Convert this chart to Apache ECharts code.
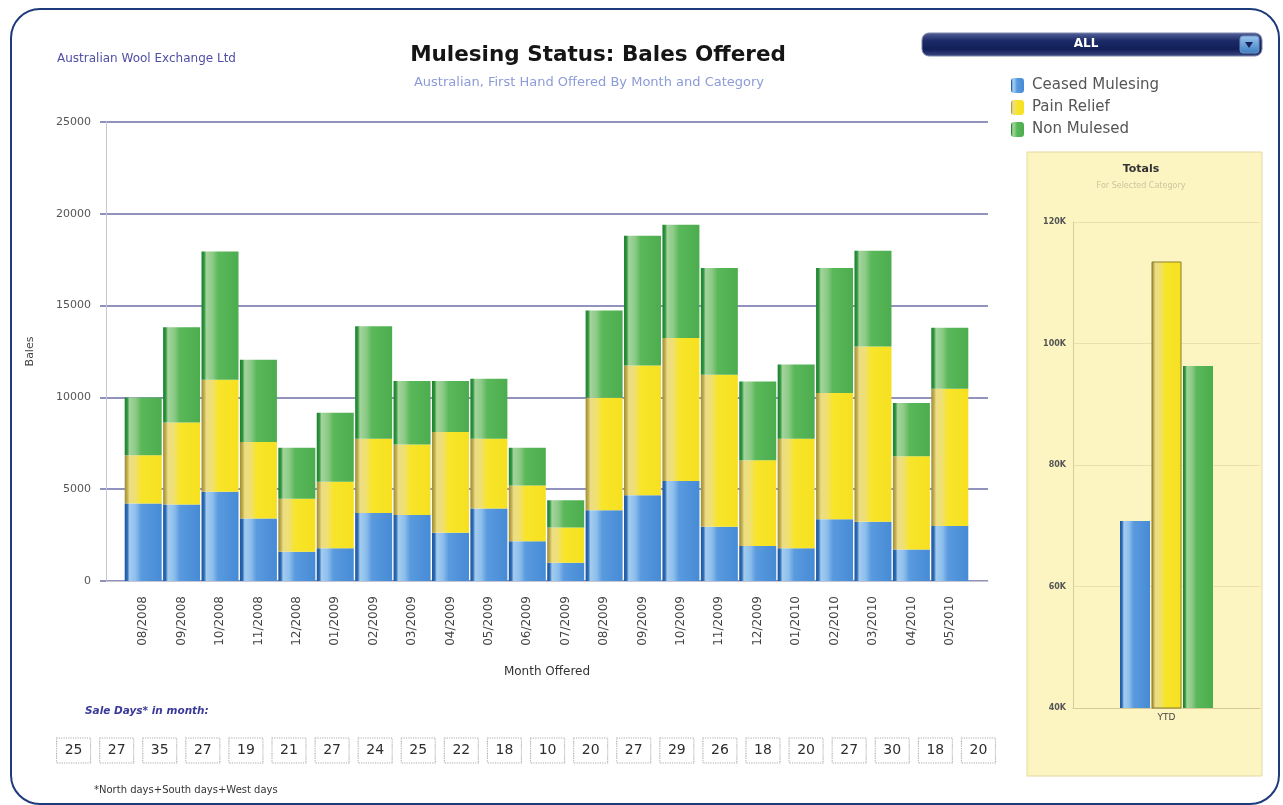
<!doctype html>
<html>
<head>
<meta charset="utf-8">
<style>
  html, body { margin: 0; padding: 0; background: #fff; }
  #frame { position: absolute; left: 10px; top: 8px; width: 1266px; height: 793px;
           border: 2px solid #1d3b7a; border-radius: 30px; }
  #chart-panel { position: absolute; left: 0; top: 0; width: 1283px; height: 805px; }
</style>
<script src="https://cdn.jsdelivr.net/npm/echarts@6/dist/echarts.min.js"></script>
</head>
<body>
<div id="frame"></div>
<div id="chart-panel"></div>
<script type="text/javascript">
// months on the main chart
var months = ['08/2008', '09/2008', '10/2008', '11/2008', '12/2008', '01/2009', '02/2009', '03/2009',
              '04/2009', '05/2009', '06/2009', '07/2009', '08/2009', '09/2009', '10/2009', '11/2009',
              '12/2009', '01/2010', '02/2010', '03/2010', '04/2010', '05/2010'];
// bales offered per category (stacked)
var ceased   = [4220, 4170, 4860, 3410, 1590, 1780, 3710, 3590, 2630, 3950, 2170, 1000, 3860, 4670, 5450, 2950, 1900, 1780, 3370, 3230, 1720, 2990];
var painRelief = [2630, 4460, 6100, 4160, 2890, 3620, 4040, 3840, 5490, 3800, 3030, 1920, 6120, 7070, 7780, 8280, 4680, 5970, 6870, 9540, 5070, 7480];
var nonMulesed = [3150, 5190, 6980, 4480, 2780, 3770, 6130, 3460, 2770, 3260, 2060, 1480, 4750, 7060, 6170, 5820, 4290, 4040, 6810, 5220, 2900, 3320];
// sale days in month
var saleDays = [25, 27, 35, 27, 19, 21, 27, 24, 25, 22, 18, 10, 20, 27, 29, 26, 18, 20, 27, 30, 18, 20];
// YTD totals panel
var totalCats = ['YTD'];
var totalCeased = [70800];
var totalPain = [113500];
var totalNon = [96300];

var names = ['Ceased Mulesing', 'Pain Relief', 'Non Mulesed'];
var font = 'DejaVu Sans';

function grad(stops) {
    return new echarts.graphic.LinearGradient(0, 0, 1, 0, stops.map(function (c) {
        return { offset: c[0], color: c[1] };
    }));
}
var blueFill = grad([[0, '#1f569a'], [0.07, '#2c6cb6'], [0.13, '#a4cbef'], [0.3, '#8cbeec'], [0.45, '#5a9ade'], [1, '#468bd6']]);
var yellowFill = grad([[0, '#9c8d3a'], [0.07, '#c2ae4c'], [0.13, '#ecdc86'], [0.3, '#efe070'], [0.45, '#f8e52a'], [1, '#f6e020']]);
var greenFill = grad([[0, '#1c7f2e'], [0.07, '#2f9640'], [0.13, '#a3d49c'], [0.3, '#8cca86'], [0.45, '#5ab85a'], [1, '#4cad4e']]);

var myChart = echarts.init(document.getElementById('chart-panel'));

var option = {
    animation: false,
    backgroundColor: 'transparent',
    textStyle: { fontFamily: font },
    legend: {
        data: names,
        orient: 'vertical',
        left: 1006,
        top: 73,
        itemWidth: 13,
        itemHeight: 15,
        itemGap: 7,
        textStyle: { fontSize: 15, color: '#555', fontFamily: font, padding: [0, 0, 0, 3] },
        selectedMode: false
    },
    graphic: [
        { type: 'text', left: 57, top: 53, style: { text: 'Australian Wool Exchange Ltd', font: '12px ' + font, fill: '#4f4fa6' } },
        { type: 'text', x: 598, y: 44, style: { text: 'Mulesing Status: Bales Offered', font: 'bold 21.5px ' + font, fill: '#151515', align: 'center' } },
        { type: 'text', x: 589, y: 76, style: { text: 'Australian, First Hand Offered By Month and Category', font: '13px ' + font, fill: '#8d9bd8', align: 'center' } },
        // dropdown
        { type: 'rect', shape: { x: 922, y: 33, width: 340, height: 23, r: 7 },
          style: { fill: new echarts.graphic.LinearGradient(0, 0, 0, 1, [
              { offset: 0, color: '#56639c' }, { offset: 0.35, color: '#1b2a66' }, { offset: 0.7, color: '#121f58' }, { offset: 1, color: '#3a4884' }]),
              stroke: '#7d86ab', lineWidth: 1 } },
        { type: 'text', x: 1086, y: 38, style: { text: 'ALL', font: 'bold 12px ' + font, fill: '#fff', align: 'center' } },
        { type: 'rect', shape: { x: 1240, y: 36, width: 19, height: 17, r: 3 },
          style: { fill: new echarts.graphic.LinearGradient(0, 0, 0, 1, [
              { offset: 0, color: '#9cc8ee' }, { offset: 1, color: '#3b7cc0' }]), stroke: '#6c8fc0' } },
        { type: 'polygon', shape: { points: [[1245, 42], [1253, 42], [1249, 48]] }, style: { fill: '#17245c' } },
        // totals panel
        { type: 'rect', z: -10, shape: { x: 1027, y: 152, width: 235, height: 624 },
          style: { fill: '#fcf5c2', stroke: '#e4daa0', lineWidth: 1 } },
        { type: 'text', x: 1141, y: 164, style: { text: 'Totals', font: 'bold 11px ' + font, fill: '#333', align: 'center' } },
        { type: 'text', x: 1141, y: 182, style: { text: 'For Selected Category', font: '8px ' + font, fill: '#cdc49c', align: 'center' } },
        // sale days block
        { type: 'text', left: 85, top: 706, style: { text: 'Sale Days* in month:', font: 'italic bold 10.5px ' + font, fill: '#3a3a9a' } },
        { type: 'text', left: 94, top: 785, style: { text: '*North days+South days+West days', font: '10px ' + font, fill: '#333' } }
    ],
    grid: [
        { left: 106, top: 122, width: 882, height: 459 },
        { left: 124, top: 122, width: 845, height: 459 },
        { left: 1073, top: 222, width: 187, height: 486 },
        { left: 52, top: 738, width: 948, height: 25 }
    ],
    xAxis: [
        { gridIndex: 0, type: 'value', min: 0, max: 1,
          name: 'Month Offered', nameLocation: 'middle', nameGap: 85,
          nameTextStyle: { fontSize: 12, color: '#333', fontFamily: font },
          axisLine: { show: true, lineStyle: { color: '#c6c6d2', width: 1 } },
          axisTick: { show: false }, axisLabel: { show: false }, splitLine: { show: false } },
        { gridIndex: 1, type: 'category', data: months,
          axisLine: { show: false }, axisTick: { show: false },
          axisLabel: { rotate: 90, interval: 0, margin: 15, fontSize: 12, color: '#444', fontFamily: font } },
        { gridIndex: 2, type: 'category', data: totalCats,
          axisLine: { show: true, lineStyle: { color: '#d6cc98' } }, axisTick: { show: false },
          axisLabel: { fontSize: 9, color: '#444', margin: 5, fontFamily: font } },
        { gridIndex: 3, type: 'category', data: months, show: false }
    ],
    yAxis: [
        { gridIndex: 0, type: 'value', min: 0, max: 25000, interval: 5000,
          name: 'Bales', nameLocation: 'middle', nameGap: 70, nameRotate: 90,
          nameTextStyle: { fontSize: 11, color: '#444', fontFamily: font },
          axisLine: { show: true, lineStyle: { color: '#c6c6d2', width: 1 } },
          axisTick: { show: true, length: 6, lineStyle: { color: '#6e6ea8', width: 1.5 } },
          axisLabel: { fontSize: 11, color: '#555', margin: 15, fontFamily: font,
                       formatter: function (v) { return String(v); } },
          splitLine: { show: true, lineStyle: { color: '#6e6ea8', width: 1.5 } } },
        { gridIndex: 1, type: 'value', min: 0, max: 25000, show: false, splitLine: { show: false } },
        { gridIndex: 2, type: 'value', min: 40000, max: 120000, interval: 20000,
          axisLine: { show: true, lineStyle: { color: '#d6cc98' } },
          axisTick: { show: false },
          axisLabel: { fontSize: 8, fontWeight: 'bold', color: '#555', margin: 7, fontFamily: font,
                       formatter: function (v) { return (v / 1000) + 'K'; } },
          splitLine: { show: true, lineStyle: { color: '#eadfae' } } },
        { gridIndex: 3, type: 'category', data: ['days'], show: false }
    ],
    series: [
        { name: names[0], type: 'bar', xAxisIndex: 1, yAxisIndex: 1, stack: 'm', barWidth: 37,
          itemStyle: { color: blueFill }, data: ceased },
        { name: names[1], type: 'bar', xAxisIndex: 1, yAxisIndex: 1, stack: 'm', barWidth: 37,
          itemStyle: { color: yellowFill }, data: painRelief },
        { name: names[2], type: 'bar', xAxisIndex: 1, yAxisIndex: 1, stack: 'm', barWidth: 37,
          itemStyle: { color: greenFill }, data: nonMulesed },
        { name: names[0], type: 'bar', xAxisIndex: 2, yAxisIndex: 2, barWidth: 30, barGap: '5%',
          itemStyle: { color: blueFill }, data: totalCeased },
        { name: names[1], type: 'bar', xAxisIndex: 2, yAxisIndex: 2, barWidth: 30, barGap: '5%',
          itemStyle: { color: yellowFill, borderColor: '#8a7d30', borderWidth: 1 }, data: totalPain },
        { name: names[2], type: 'bar', xAxisIndex: 2, yAxisIndex: 2, barWidth: 30, barGap: '5%',
          itemStyle: { color: greenFill }, data: totalNon },
        { name: 'Sale Days', type: 'scatter', xAxisIndex: 3, yAxisIndex: 3,
          symbol: 'rect', symbolSize: [34, 25],
          itemStyle: { color: '#fff', borderColor: '#aaa', borderWidth: 1, borderType: 'dotted', opacity: 1 },
          label: { show: true, position: 'inside', fontSize: 14, color: '#2e2e2e', fontFamily: font,
                   formatter: function (p) { return p.value[2]; } },
          data: saleDays.map(function (d, i) { return [months[i], 'days', d]; }) }
    ]
};
myChart.setOption(option);
</script>
</body>
</html>
